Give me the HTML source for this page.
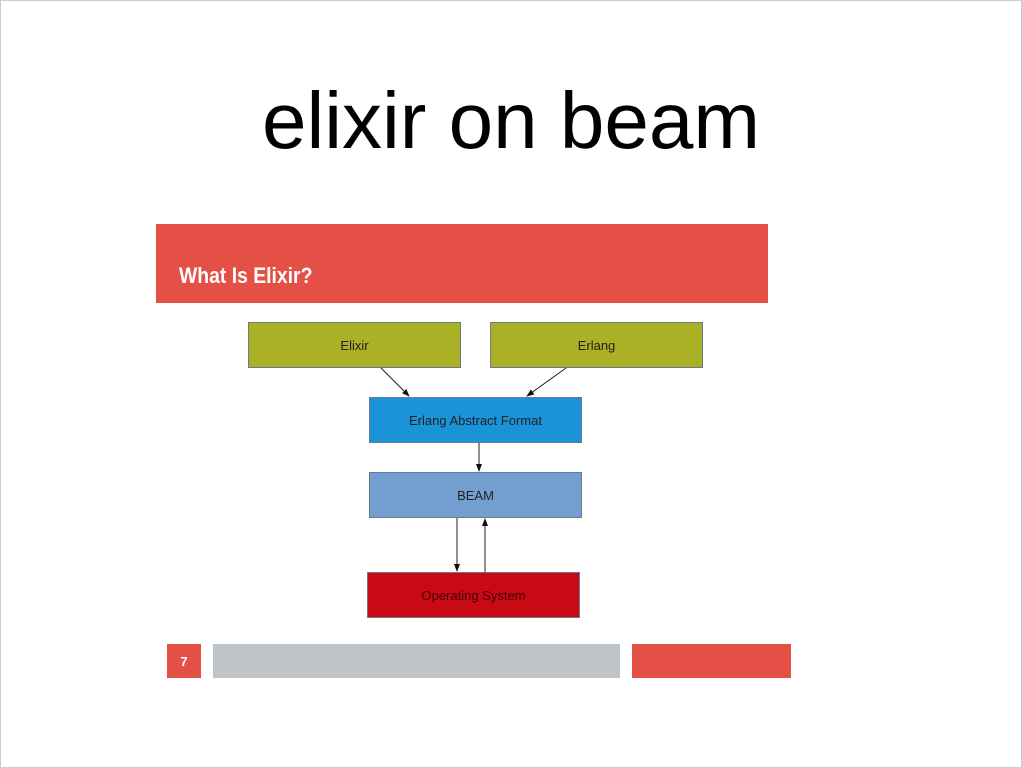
<!DOCTYPE html>
<html><head><style>
body{margin:0;width:1022px;height:768px;background:#fff;position:relative;overflow:hidden;font-family:"Liberation Sans",sans-serif}
.a{position:absolute;box-sizing:border-box}
.bx{display:flex;align-items:center;justify-content:center;font-size:13px;color:#222;border:1px solid #6a7a8a}
</style></head><body>
<div class="a" style="left:0;top:0;width:1022px;height:768px;border:1px solid #ccc"></div>
<div class="a" style="left:0;top:71px;width:1022px;text-align:center;font-size:80px;font-weight:300;color:#000;line-height:100px">elixir on beam</div>
<div class="a" style="left:156px;top:224px;width:612px;height:79px;background:#e45046"></div>
<div class="a" style="left:179px;top:263px;font-size:22px;font-weight:bold;color:#fff;transform:scaleX(0.88);transform-origin:left">What Is Elixir?</div>
<div class="a bx" style="left:248px;top:322px;width:213px;height:46px;background:#aab124">Elixir</div>
<div class="a bx" style="left:490px;top:322px;width:213px;height:46px;background:#aab124">Erlang</div>
<div class="a bx" style="left:369px;top:397px;width:213px;height:46px;background:#1a93d8">Erlang Abstract Format</div>
<div class="a bx" style="left:369px;top:472px;width:213px;height:46px;background:#739fd0">BEAM</div>
<div class="a bx" style="left:367px;top:572px;width:213px;height:46px;background:#c90a14;color:#400">Operating System</div>
<svg class="a" style="left:0;top:0" width="1022" height="768">
<defs><marker id="m" markerWidth="8" markerHeight="8" refX="7" refY="4" orient="auto" markerUnits="userSpaceOnUse"><path d="M0,1 L8,4 L0,7z" fill="#111"/></marker></defs>
<g stroke="#222" stroke-width="1" fill="none" marker-end="url(#m)">
<line x1="381" y1="368" x2="409" y2="396"/>
<line x1="566" y1="368" x2="527" y2="396"/>
<line x1="479" y1="443" x2="479" y2="471"/>
<line x1="457" y1="518" x2="457" y2="571"/>
<line x1="485" y1="572" x2="485" y2="519"/>
</g></svg>
<div class="a" style="left:167px;top:644px;width:34px;height:34px;background:#e45046;color:#fff;font-weight:bold;font-size:13px;display:flex;align-items:center;justify-content:center">7</div>
<div class="a" style="left:213px;top:644px;width:407px;height:34px;background:#bfc4c8"></div>
<div class="a" style="left:632px;top:644px;width:159px;height:34px;background:#e45046"></div>
</body></html>
